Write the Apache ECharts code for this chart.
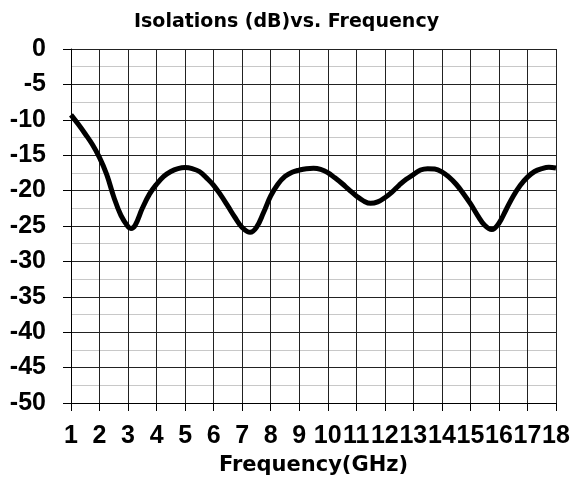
<!DOCTYPE html>
<html>
<head>
<meta charset="utf-8">
<script src="https://cdn.jsdelivr.net/npm/echarts@6/dist/echarts.min.js"></script>
<style>
html,body{margin:0;padding:0;background:#fff;}
#chart{width:573px;height:481px;}
</style>
</head>
<body>
<div id="chart"></div>
<script>
var titleText = 'Isolations (dB)vs. Frequency';
var xAxisName = 'Frequency(GHz)';
var frequencies = [
  1, 1.25, 1.5, 1.75, 2, 2.25, 2.5, 2.75, 3, 3.1, 3.25, 3.5, 3.75,
  4, 4.25, 4.5, 4.75, 5, 5.25, 5.5, 5.75, 6, 6.25, 6.5, 6.75,
  7, 7.28, 7.5, 7.75, 8, 8.25, 8.5, 8.75, 9, 9.25, 9.5, 9.75,
  10, 10.25, 10.5, 10.75, 11, 11.25, 11.5, 11.75, 12, 12.25, 12.5, 12.75,
  13, 13.25, 13.5, 13.75, 14, 14.25, 14.5, 14.75, 15, 15.25, 15.5, 15.75,
  16, 16.25, 16.5, 16.75, 17, 17.25, 17.5, 17.75, 18
];
var isolation = [
  -9.3, -10.6, -12.0, -13.5, -15.35, -17.7, -20.9, -23.5, -25.1, -25.35, -24.9, -22.5, -20.5,
  -19.1, -18.0, -17.3, -16.9, -16.75, -16.9, -17.3, -18.2, -19.25, -20.65, -22.2, -23.8,
  -25.2, -25.9, -25.2, -23.1, -20.75, -19.1, -18.0, -17.4, -17.1, -16.9, -16.85, -17.0,
  -17.45, -18.2, -19.0, -19.9, -20.75, -21.45, -21.8, -21.6, -21.0, -20.2, -19.25, -18.4,
  -17.75, -17.1, -16.9, -16.95, -17.35, -18.1, -19.1, -20.4, -21.85, -23.5, -24.9, -25.5,
  -24.6, -22.7, -20.8, -19.25, -18.1, -17.3, -16.9, -16.7, -16.8
];

var seriesData = frequencies.map(function (f, i) { return [f, isolation[i]]; });

var chart = echarts.init(document.getElementById('chart'), null, {renderer: 'canvas'});
chart.setOption({
  animation: false,
  backgroundColor: '#fff',
  title: {
    text: titleText,
    left: 'center',
    top: 13,
    padding: 0,
    textStyle: {fontFamily: 'DejaVu Sans', fontWeight: 'bold', fontSize: 19, color: '#000'}
  },
  grid: {left: 71, right: 17, top: 49, bottom: 78, containLabel: false},
  xAxis: {
    type: 'value',
    min: 1,
    max: 18,
    interval: 1,
    name: xAxisName,
    nameLocation: 'middle',
    nameGap: 52,
    nameTextStyle: {fontFamily: 'DejaVu Sans', fontWeight: 'bold', fontSize: 21, color: '#000'},
    axisLine: {onZero: false, lineStyle: {color: '#000', width: 1}},
    axisTick: {show: true, inside: false, length: 8, lineStyle: {color: '#000'}},
    axisLabel: {margin: 21, fontFamily: 'Liberation Sans', fontWeight: 'bold', fontSize: 25, color: '#000'},
    splitLine: {show: true, lineStyle: {color: '#222', width: 1}}
  },
  yAxis: {
    type: 'value',
    min: -50,
    max: 0,
    interval: 5,
    axisLine: {show: true, onZero: false, lineStyle: {color: '#000', width: 1}},
    axisTick: {show: true, inside: false, length: 8, lineStyle: {color: '#000'}},
    axisLabel: {margin: 25, fontFamily: 'Liberation Sans', fontWeight: 'bold', fontSize: 25, color: '#000'},
    splitLine: {show: true, lineStyle: {color: '#222', width: 1}},
    minorTick: {show: false, splitNumber: 2},
    minorSplitLine: {show: true, lineStyle: {color: '#c8c8c8', width: 1}}
  },
  series: [{
    type: 'line',
    data: seriesData,
    smooth: 0.4,
    showSymbol: false,
    symbol: 'none',
    lineStyle: {color: '#000', width: 5},
    z: 5
  }]
});
</script>
</body>
</html>
